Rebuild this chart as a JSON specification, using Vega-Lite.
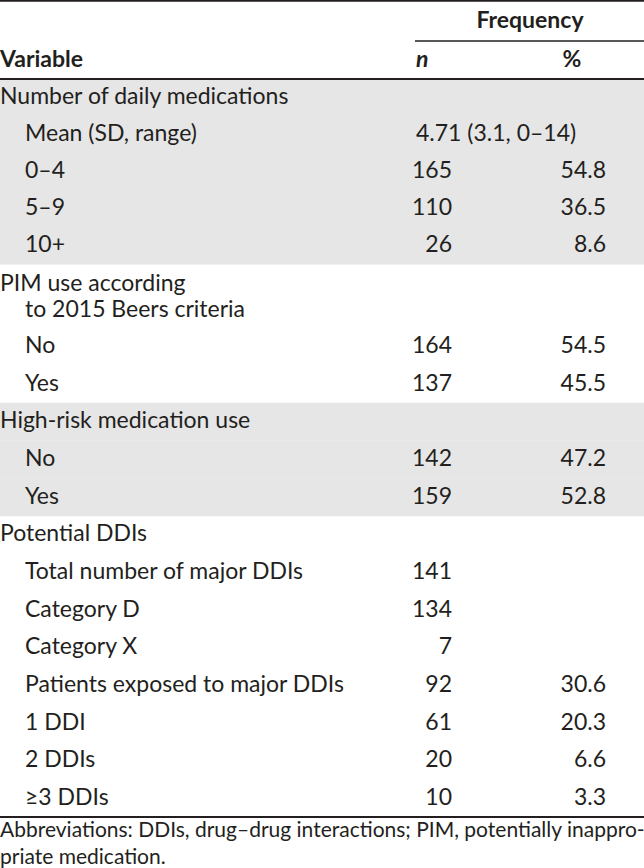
{
  "$schema": "https://vega.github.io/schema/vega-lite/v6.json",
  "width": 644,
  "height": 868,
  "padding": 0,
  "autosize": {"type": "none"},
  "background": "white",
  "config": {
    "view": {"stroke": null},
    "text": {"font": "Lato", "fontSize": 23, "color": "#231f20", "baseline": "alphabetic", "dy": 6.5}
  },
  "datasets": {
    "rows": [
      {"L": 0, "label": "Number of daily medications", "level": 0, "group": 1, "n": "", "pct": "", "summary": ""},
      {"L": 1, "label": "Mean (SD, range)", "level": 1, "group": 1, "n": "", "pct": "", "summary": "4.71 (3.1, 0–14)"},
      {"L": 2, "label": "0–4", "level": 1, "group": 1, "n": "165", "pct": "54.8", "summary": ""},
      {"L": 3, "label": "5–9", "level": 1, "group": 1, "n": "110", "pct": "36.5", "summary": ""},
      {"L": 4, "label": "10+", "level": 1, "group": 1, "n": "26", "pct": "8.6", "summary": ""},
      {"L": 5, "label": "PIM use according", "level": 0, "group": 2, "n": "", "pct": "", "summary": ""},
      {"L": 6, "label": "to 2015 Beers criteria", "level": 1, "group": 2, "n": "", "pct": "", "summary": ""},
      {"L": 7, "label": "No", "level": 1, "group": 2, "n": "164", "pct": "54.5", "summary": ""},
      {"L": 8, "label": "Yes", "level": 1, "group": 2, "n": "137", "pct": "45.5", "summary": ""},
      {"L": 9, "label": "High-risk medication use", "level": 0, "group": 3, "n": "", "pct": "", "summary": ""},
      {"L": 10, "label": "No", "level": 1, "group": 3, "n": "142", "pct": "47.2", "summary": ""},
      {"L": 11, "label": "Yes", "level": 1, "group": 3, "n": "159", "pct": "52.8", "summary": ""},
      {"L": 12, "label": "Potential DDIs", "level": 0, "group": 4, "n": "", "pct": "", "summary": ""},
      {"L": 13, "label": "Total number of major DDIs", "level": 1, "group": 4, "n": "141", "pct": "", "summary": ""},
      {"L": 14, "label": "Category D", "level": 1, "group": 4, "n": "134", "pct": "", "summary": ""},
      {"L": 15, "label": "Category X", "level": 1, "group": 4, "n": "7", "pct": "", "summary": ""},
      {"L": 16, "label": "Patients exposed to major DDIs", "level": 1, "group": 4, "n": "92", "pct": "30.6", "summary": ""},
      {"L": 17, "label": "1 DDI", "level": 1, "group": 4, "n": "61", "pct": "20.3", "summary": ""},
      {"L": 18, "label": "2 DDIs", "level": 1, "group": 4, "n": "20", "pct": "6.6", "summary": ""},
      {"L": 19, "label": "≥3 DDIs", "level": 1, "group": 4, "n": "10", "pct": "3.3", "summary": ""}
    ],
    "notes": [
      {"L": 20, "text": "Abbreviations: DDIs, drug–drug interactions; PIM, potentially inappro-"},
      {"L": 21, "text": "priate medication."}
    ],
    "header": [
      {"L": -2, "text": "Frequency", "col": "freq"},
      {"L": -1, "text": "Variable", "col": "var"},
      {"L": -1, "text": "n", "col": "n"},
      {"L": -1, "text": "%", "col": "pct"}
    ]
  },
  "layer": [
    {
      "data": {"name": "rows"},
      "transform": [{"filter": {"field": "group", "oneOf": [1, 3]}}],
      "mark": {"type": "rule", "strokeWidth": 38, "color": "#e6e6e6", "strokeCap": "butt"},
      "encoding": {
        "y": {"field": "L", "type": "quantitative", "axis": null,
          "scale": {"domain": [-2, -1, 4, 5, 6, 7, 19, 20, 21], "range": [21.5, 60.5, 245.5, 284, 310, 346.5, 798.5, 831.5, 858.5], "zero": false, "nice": false}}
      }
    },
    {
      "data": {"values": [{}]},
      "mark": {"type": "rule", "strokeWidth": 2, "color": "#231f20"},
      "encoding": {"y": {"datum": -2.53, "type": "quantitative"}}
    },
    {
      "data": {"values": [{}]},
      "mark": {"type": "rule", "strokeWidth": 1.5, "color": "#231f20"},
      "encoding": {
        "y": {"datum": -1.5, "type": "quantitative"},
        "x": {"datum": 415, "type": "quantitative", "axis": null, "scale": {"domain": [0, 644], "nice": false, "zero": false}},
        "x2": {"datum": 644}
      }
    },
    {
      "data": {"values": [{}]},
      "mark": {"type": "rule", "strokeWidth": 2, "color": "#231f20"},
      "encoding": {"y": {"datum": -0.5, "type": "quantitative"}}
    },
    {
      "data": {"values": [{}]},
      "mark": {"type": "rule", "strokeWidth": 2, "color": "#231f20"},
      "encoding": {"y": {"datum": 19.56, "type": "quantitative"}}
    },
    {
      "data": {"name": "header"},
      "transform": [{"filter": "datum.col == 'freq'"}],
      "mark": {"type": "text", "align": "center", "fontWeight": "bold"},
      "encoding": {"y": {"field": "L", "type": "quantitative"}, "x": {"datum": 530, "type": "quantitative"}, "text": {"field": "text"}}
    },
    {
      "data": {"name": "header"},
      "transform": [{"filter": "datum.col == 'var'"}],
      "mark": {"type": "text", "align": "left", "fontWeight": "bold"},
      "encoding": {"y": {"field": "L", "type": "quantitative"}, "x": {"datum": 0, "type": "quantitative"}, "text": {"field": "text"}}
    },
    {
      "data": {"name": "header"},
      "transform": [{"filter": "datum.col == 'n'"}],
      "mark": {"type": "text", "align": "left", "fontWeight": "bold", "fontStyle": "italic"},
      "encoding": {"y": {"field": "L", "type": "quantitative"}, "x": {"datum": 416, "type": "quantitative"}, "text": {"field": "text"}}
    },
    {
      "data": {"name": "header"},
      "transform": [{"filter": "datum.col == 'pct'"}],
      "mark": {"type": "text", "align": "center", "fontWeight": "bold"},
      "encoding": {"y": {"field": "L", "type": "quantitative"}, "x": {"datum": 572, "type": "quantitative"}, "text": {"field": "text"}}
    },
    {
      "data": {"name": "rows"},
      "transform": [{"filter": "datum.level == 0"}],
      "mark": {"type": "text", "align": "left"},
      "encoding": {"y": {"field": "L", "type": "quantitative"}, "x": {"datum": 0, "type": "quantitative"}, "text": {"field": "label"}}
    },
    {
      "data": {"name": "rows"},
      "transform": [{"filter": "datum.level == 1"}],
      "mark": {"type": "text", "align": "left"},
      "encoding": {"y": {"field": "L", "type": "quantitative"}, "x": {"datum": 25, "type": "quantitative"}, "text": {"field": "label"}}
    },
    {
      "data": {"name": "rows"},
      "mark": {"type": "text", "align": "left"},
      "encoding": {"y": {"field": "L", "type": "quantitative"}, "x": {"datum": 416, "type": "quantitative"}, "text": {"field": "summary"}}
    },
    {
      "data": {"name": "rows"},
      "mark": {"type": "text", "align": "right"},
      "encoding": {"y": {"field": "L", "type": "quantitative"}, "x": {"datum": 452, "type": "quantitative"}, "text": {"field": "n"}}
    },
    {
      "data": {"name": "rows"},
      "mark": {"type": "text", "align": "right"},
      "encoding": {"y": {"field": "L", "type": "quantitative"}, "x": {"datum": 606, "type": "quantitative"}, "text": {"field": "pct"}}
    },
    {
      "data": {"name": "notes"},
      "mark": {"type": "text", "align": "left", "fontSize": 21, "dy": 5.5},
      "encoding": {"y": {"field": "L", "type": "quantitative"}, "x": {"datum": 0, "type": "quantitative"}, "text": {"field": "text"}}
    }
  ]
}
